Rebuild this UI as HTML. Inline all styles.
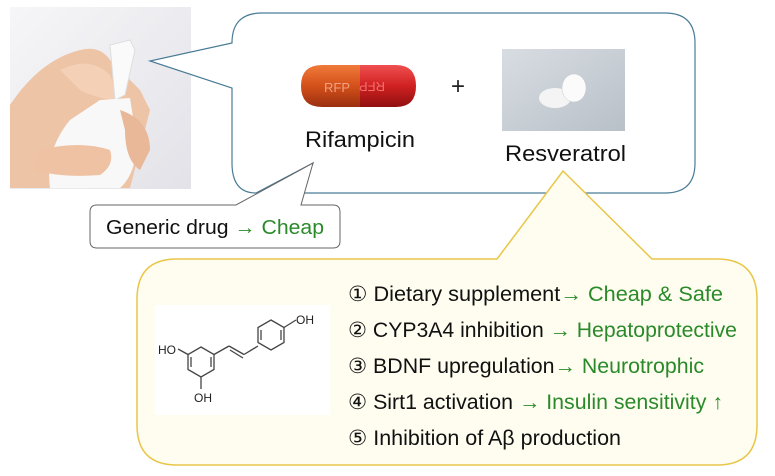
<!DOCTYPE html>
<html><head><meta charset="utf-8"><style>
html,body{margin:0;padding:0;background:#fff;}
svg{display:block;font-family:"Liberation Sans",sans-serif;}
</style></head><body>
<svg width="775" height="476" viewBox="0 0 775 476" xmlns="http://www.w3.org/2000/svg">
<defs>
<linearGradient id="bg" x1="0" y1="0" x2="1" y2="1"><stop offset="0" stop-color="#f6f6f8"/><stop offset="1" stop-color="#e2e2e8"/></linearGradient>
<linearGradient id="tab" x1="0" y1="0" x2="1" y2="1"><stop offset="0" stop-color="#d8dde2"/><stop offset="1" stop-color="#b8c0c8"/></linearGradient>
<linearGradient id="cap1" x1="0" y1="0" x2="0" y2="1"><stop offset="0" stop-color="#f07a3a"/><stop offset="0.5" stop-color="#d4501a"/><stop offset="1" stop-color="#9a3010"/></linearGradient>
<linearGradient id="cap2" x1="0" y1="0" x2="0" y2="1"><stop offset="0" stop-color="#f05050"/><stop offset="0.5" stop-color="#d02020"/><stop offset="1" stop-color="#901010"/></linearGradient>
</defs>
<!-- photo -->
<rect x="10" y="7" width="181" height="182" fill="url(#bg)"/>
<path d="M10 105 Q40 60 80 50 Q100 45 110 60 L140 90 L150 110 Q140 150 130 188 L10 188 Z" fill="#eec4a6"/>
<path d="M60 70 Q90 55 110 75 L120 100 Q100 100 80 90 Z" fill="#f4d0b6"/>
<path d="M110 45 L130 40 L135 50 L125 95 L115 100 Z" fill="#fafafa" stroke="#ddd"/>
<path d="M100 100 L130 98 L135 130 Q140 170 120 188 L50 188 Q45 150 70 120 Z" fill="#f8f8f8"/>
<path d="M120 110 Q150 120 150 150 L140 170 Q125 160 125 130 Z" fill="#e8b898"/>
<path d="M40 150 Q80 140 110 150 Q115 165 100 175 Q60 178 35 170 Z" fill="#efc2a4"/>
<!-- blue callout -->
<path d="M262 13 H665 Q695 13 695 43 V163 Q695 193 665 193 H301 L313 163 L256 193 Q232 193 232 163 V88 L150 61 L232 43 Q232 13 262 13 Z" fill="#fff" stroke="#4a7c96" stroke-width="1.2"/>
<!-- generic drug box -->
<path d="M97 205 H236 L313 163 L301 205 H333 Q340 205 340 212 V241 Q340 248 333 248 H97 Q90 248 90 241 V212 Q90 205 97 205 Z" fill="#fff" stroke="#666" stroke-width="1"/>
<text x="106" y="234" font-size="20" fill="#111" textLength="218" lengthAdjust="spacingAndGlyphs">Generic drug <tspan fill="#2a8a2a">→ Cheap</tspan></text>
<!-- capsule -->
<path d="M322 65 H360 V107 H322 Q301 107 301 86 Q301 65 322 65 Z" fill="url(#cap1)"/>
<path d="M360 65 H396 Q416 65 416 86 Q416 107 396 107 H360 Z" fill="url(#cap2)"/>
<text x="324" y="92" font-size="13" fill="#f0a080">RFP</text>
<text x="385" y="90" font-size="13" fill="#f07070" transform="rotate(180 385 86)">RFP</text>
<text x="305" y="147" font-size="22" fill="#111" textLength="110" lengthAdjust="spacingAndGlyphs">Rifampicin</text>
<text x="458" y="94" font-size="24" fill="#222" text-anchor="middle">+</text>
<!-- resveratrol image -->
<rect x="502" y="49" width="123" height="82" fill="url(#tab)"/>
<ellipse cx="555" cy="98" rx="16" ry="10" fill="#f4f4f4"/>
<ellipse cx="574" cy="88" rx="12" ry="14" fill="#fbfbfb" stroke="#ccc" stroke-width="0.5"/>
<text x="505" y="161" font-size="22" fill="#111" textLength="121" lengthAdjust="spacingAndGlyphs">Resveratrol</text>
<!-- yellow callout -->
<path d="M177 259 H497 L563 171 L652 259 H717 Q757 259 757 299 V425 Q757 465 717 465 H177 Q137 465 137 425 V299 Q137 259 177 259 Z" fill="#fffdf0" stroke="#e8c64a" stroke-width="1.5"/>
<rect x="155" y="305" width="175" height="110" fill="#fff"/>
<!-- molecule -->
<g stroke="#444" stroke-width="1.3" fill="none">
<polygon points="201,347 214,354.5 214,369.5 201,377 188,369.5 188,354.5"/>
<line x1="191" y1="357" x2="191" y2="367"/><line x1="211" y1="357" x2="211" y2="367"/>
<line x1="214" y1="354.5" x2="229" y2="346"/>
<line x1="229" y1="346" x2="244" y2="354.5"/><line x1="230" y1="350" x2="243" y2="358"/>
<line x1="244" y1="354.5" x2="258" y2="346"/>
<polygon points="271,320 284,327.5 284,342.5 271,350 258,342.5 258,327.5"/>
<line x1="261" y1="330" x2="261" y2="340"/><line x1="281" y1="330" x2="281" y2="340"/>
<line x1="284" y1="327.5" x2="296" y2="320"/>
<line x1="188" y1="354.5" x2="178" y2="349"/>
<line x1="201" y1="377" x2="201" y2="389"/>
</g>
<g font-size="12" fill="#222"><text x="158" y="354">HO</text><text x="296" y="324">OH</text><text x="194" y="402">OH</text></g>
<g font-size="21" fill="#111" lengthAdjust="spacingAndGlyphs">
<text x="348" y="301" textLength="375" lengthAdjust="spacingAndGlyphs">① Dietary supplement<tspan fill="#2a8a2a">→ Cheap &amp; Safe</tspan></text>
<text x="348" y="337" textLength="389" lengthAdjust="spacingAndGlyphs">② CYP3A4 inhibition <tspan fill="#2a8a2a">→ Hepatoprotective</tspan></text>
<text x="348" y="373" textLength="356" lengthAdjust="spacingAndGlyphs">③ BDNF upregulation<tspan fill="#2a8a2a">→ Neurotrophic</tspan></text>
<text x="348" y="409" textLength="375" lengthAdjust="spacingAndGlyphs">④ Sirt1 activation <tspan fill="#2a8a2a">→ Insulin sensitivity ↑</tspan></text>
<text x="348" y="445" textLength="273" lengthAdjust="spacingAndGlyphs">⑤ Inhibition of Aβ production</text>
</g>
</svg>
</body></html>
